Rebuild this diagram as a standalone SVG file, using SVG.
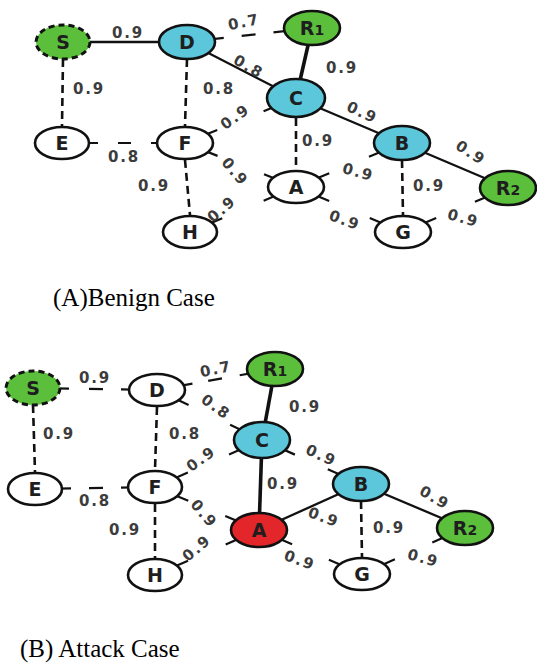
<svg xmlns="http://www.w3.org/2000/svg" width="537" height="670" viewBox="0 0 537 670">
<style>
  .solid { stroke: #111; stroke-width: 2.3; fill: none; stroke-linecap: round; }
  .thick { stroke: #111; stroke-width: 3.6; fill: none; }
  .dash { stroke: #111; stroke-width: 2.6; fill: none; stroke-dasharray: 8 5; }
  .stub { stroke: #111; stroke-width: 2.2; fill: none; }
  .node { stroke: #111; stroke-width: 2.6; }
  .white { fill: #ffffff; }
  .green { fill: #5cbf3c; }
  .cyan { fill: #5cc6da; }
  .red { fill: #e2262a; }
  .src { stroke-dasharray: 6 4; stroke-width: 3; }
  .nl { font-family: "DejaVu Sans", sans-serif; font-weight: bold; font-size: 19px; fill: #1e1e1e; text-anchor: middle; }
  .el { font-family: "DejaVu Sans", sans-serif; font-weight: bold; font-size: 15px; fill: #3c3c3c; text-anchor: middle; letter-spacing: 1.8px; }
  .cap { font-family: "Liberation Serif", serif; font-size: 25px; fill: #000; }
  .sub { font-size: 14px; }
</style>

<!-- ===================== (A) Benign case ===================== -->
<g id="connectors-benign">
  <!-- solid links -->
  <line class="solid" x1="63" y1="42" x2="187" y2="42"/>
  <line class="solid" x1="187" y1="42" x2="296" y2="98"/>
  <line class="thick" x1="312" y1="28" x2="296" y2="98"/>
  <line class="solid" x1="296" y1="98" x2="402" y2="143"/>
  <line class="solid" x1="402" y1="143" x2="508" y2="188"/>
  <!-- dashed vertical links -->
  <line class="dash" x1="63" y1="59" x2="62" y2="126"/>
  <line class="dash" x1="187" y1="59" x2="185" y2="126"/>
  <line class="dash" x1="296" y1="118" x2="296" y2="170"/>
  <line class="dash" x1="402" y1="160" x2="403" y2="215"/>
  <line class="dash" x1="185" y1="160" x2="190" y2="215"/>
  <!-- dashed links drawn as end stubs -->
  <line class="stub" x1="187" y1="42" x2="312" y2="28" stroke-dasharray="37 18 14 18 40"/>
  <line class="stub" x1="62" y1="143" x2="185" y2="143" stroke-dasharray="36 20 13 20 34"/>
  <line class="stub" x1="296" y1="98" x2="185" y2="143" stroke-dasharray="35 50 35"/>
  <line class="stub" x1="185" y1="143" x2="296" y2="187" stroke-dasharray="35 50 35"/>
  <line class="stub" x1="190" y1="232" x2="296" y2="187" stroke-dasharray="35 45 36"/>
  <line class="stub" x1="296" y1="187" x2="402" y2="143" stroke-dasharray="36 43 36"/>
  <line class="stub" x1="296" y1="187" x2="403" y2="232" stroke-dasharray="36 44 36"/>
  <line class="stub" x1="403" y1="232" x2="508" y2="188" stroke-dasharray="36 42 36"/>
  <!-- link weights -->
  <text class="el" x="128" y="38">0.9</text>
  <text class="el" transform="translate(245,27) rotate(-12)">0.7</text>
  <text class="el" transform="translate(246,71) rotate(30)">0.8</text>
  <text class="el" x="342" y="73">0.9</text>
  <text class="el" transform="translate(360,117) rotate(25)">0.9</text>
  <text class="el" transform="translate(468,157) rotate(33)">0.9</text>
  <text class="el" x="89" y="94">0.9</text>
  <text class="el" x="219" y="94">0.8</text>
  <text class="el" x="124" y="162">0.8</text>
  <text class="el" transform="translate(238,121) rotate(-35)">0.9</text>
  <text class="el" x="318" y="146">0.9</text>
  <text class="el" transform="translate(231,175) rotate(50)">0.9</text>
  <text class="el" transform="translate(357,177) rotate(15)">0.9</text>
  <text class="el" x="429" y="191">0.9</text>
  <text class="el" x="154" y="191">0.9</text>
  <text class="el" transform="translate(225,213) rotate(-40)">0.9</text>
  <text class="el" transform="translate(343,225) rotate(20)">0.9</text>
  <text class="el" transform="translate(462,223) rotate(15)">0.9</text>
</g>

<g id="a-S"><ellipse class="node green src" cx="63" cy="42" rx="27" ry="17"/><text class="nl" x="63" y="49">S</text></g>
<g id="a-D"><ellipse class="node cyan" cx="187" cy="42" rx="28" ry="17"/><text class="nl" x="187" y="49">D</text></g>
<g id="a-R1"><ellipse class="node green" cx="312" cy="28" rx="28" ry="17"/><text class="nl" x="312" y="35">R<tspan class="sub">1</tspan></text></g>
<g id="a-C"><ellipse class="node cyan" cx="296" cy="98" rx="29" ry="19"/><text class="nl" x="296" y="105">C</text></g>
<g id="a-E"><ellipse class="node white" cx="62" cy="143" rx="27" ry="16"/><text class="nl" x="62" y="150">E</text></g>
<g id="a-F"><ellipse class="node white" cx="185" cy="143" rx="28" ry="16"/><text class="nl" x="185" y="150">F</text></g>
<g id="a-A"><ellipse class="node white" cx="296" cy="187" rx="28" ry="16"/><text class="nl" x="296" y="194">A</text></g>
<g id="a-B"><ellipse class="node cyan" cx="402" cy="143" rx="28" ry="17"/><text class="nl" x="402" y="150">B</text></g>
<g id="a-R2"><ellipse class="node green" cx="508" cy="188" rx="28" ry="17"/><text class="nl" x="508" y="195">R<tspan class="sub">2</tspan></text></g>
<g id="a-G"><ellipse class="node white" cx="403" cy="232" rx="28" ry="16"/><text class="nl" x="403" y="239">G</text></g>
<g id="a-H"><ellipse class="node white" cx="190" cy="232" rx="27" ry="16"/><text class="nl" x="190" y="239">H</text></g>

<text class="cap" x="53" y="306">(A)Benign Case</text>

<!-- ===================== (B) Attack case ===================== -->
<g id="connectors-attack">
  <!-- solid links -->
  <line class="thick" x1="275" y1="369" x2="262" y2="440"/>
  <line class="thick" x1="262" y1="440" x2="259" y2="530"/>
  <line class="solid" x1="259" y1="530" x2="361" y2="484"/>
  <line class="solid" x1="361" y1="484" x2="465" y2="528"/>
  <!-- dashed vertical links -->
  <line class="dash" x1="33" y1="405" x2="35" y2="472"/>
  <line class="dash" x1="157" y1="407" x2="155" y2="470"/>
  <line class="dash" x1="361" y1="501" x2="362" y2="557"/>
  <line class="dash" x1="155" y1="504" x2="155" y2="558"/>
  <!-- dashed links drawn as end stubs -->
  <line class="stub" x1="33" y1="388" x2="157" y2="390" stroke-dasharray="36 20 14 18 36"/>
  <line class="stub" x1="157" y1="390" x2="275" y2="369" stroke-dasharray="36 16 14 18 36"/>
  <line class="stub" x1="157" y1="390" x2="262" y2="440" stroke-dasharray="35 46 35"/>
  <line class="stub" x1="35" y1="489" x2="155" y2="487" stroke-dasharray="36 18 14 18 34"/>
  <line class="stub" x1="262" y1="440" x2="155" y2="487" stroke-dasharray="36 45 36"/>
  <line class="stub" x1="262" y1="440" x2="361" y2="484" stroke-dasharray="36 36 36"/>
  <line class="stub" x1="155" y1="487" x2="259" y2="530" stroke-dasharray="36 40 36"/>
  <line class="stub" x1="155" y1="575" x2="259" y2="530" stroke-dasharray="36 41 36"/>
  <line class="stub" x1="259" y1="530" x2="362" y2="574" stroke-dasharray="36 40 36"/>
  <line class="stub" x1="362" y1="574" x2="465" y2="528" stroke-dasharray="36 41 36"/>
  <!-- link weights -->
  <text class="el" x="95" y="383">0.9</text>
  <text class="el" transform="translate(217,374) rotate(-12)">0.7</text>
  <text class="el" transform="translate(213,411) rotate(35)">0.8</text>
  <text class="el" x="305" y="412">0.9</text>
  <text class="el" x="59" y="439">0.9</text>
  <text class="el" x="185" y="439">0.8</text>
  <text class="el" x="95" y="506">0.8</text>
  <text class="el" transform="translate(204,463) rotate(-35)">0.9</text>
  <text class="el" transform="translate(319,460) rotate(25)">0.9</text>
  <text class="el" x="283" y="489">0.9</text>
  <text class="el" transform="translate(432,502) rotate(30)">0.9</text>
  <text class="el" transform="translate(322,522) rotate(20)">0.9</text>
  <text class="el" transform="translate(200,517) rotate(50)">0.9</text>
  <text class="el" x="389" y="533">0.9</text>
  <text class="el" x="125" y="535">0.9</text>
  <text class="el" transform="translate(200,552) rotate(-40)">0.9</text>
  <text class="el" transform="translate(298,565) rotate(20)">0.9</text>
  <text class="el" transform="translate(422,563) rotate(15)">0.9</text>
</g>

<g id="b-S"><ellipse class="node green src" cx="33" cy="388" rx="27" ry="17"/><text class="nl" x="33" y="395">S</text></g>
<g id="b-D"><ellipse class="node white" cx="157" cy="390" rx="28" ry="16"/><text class="nl" x="157" y="397">D</text></g>
<g id="b-R1"><ellipse class="node green" cx="275" cy="369" rx="28" ry="17"/><text class="nl" x="275" y="376">R<tspan class="sub">1</tspan></text></g>
<g id="b-C"><ellipse class="node cyan" cx="262" cy="440" rx="28" ry="18"/><text class="nl" x="262" y="447">C</text></g>
<g id="b-E"><ellipse class="node white" cx="35" cy="489" rx="27" ry="16"/><text class="nl" x="35" y="496">E</text></g>
<g id="b-F"><ellipse class="node white" cx="155" cy="487" rx="27" ry="16"/><text class="nl" x="155" y="494">F</text></g>
<g id="b-A"><ellipse class="node red" cx="259" cy="530" rx="28" ry="17"/><text class="nl" x="259" y="537">A</text></g>
<g id="b-B"><ellipse class="node cyan" cx="361" cy="484" rx="28" ry="17"/><text class="nl" x="361" y="491">B</text></g>
<g id="b-R2"><ellipse class="node green" cx="465" cy="528" rx="28" ry="17"/><text class="nl" x="465" y="535">R<tspan class="sub">2</tspan></text></g>
<g id="b-G"><ellipse class="node white" cx="362" cy="574" rx="28" ry="16"/><text class="nl" x="362" y="581">G</text></g>
<g id="b-H"><ellipse class="node white" cx="155" cy="575" rx="27" ry="16"/><text class="nl" x="155" y="582">H</text></g>

<text class="cap" x="20" y="657">(B) Attack Case</text>
</svg>
